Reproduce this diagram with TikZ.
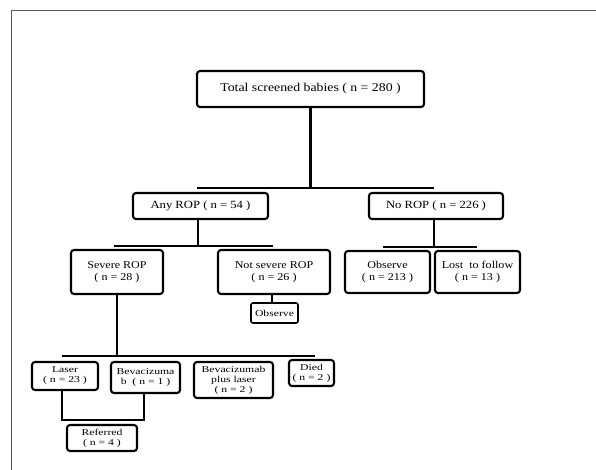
\documentclass[tikz,border=0pt]{standalone}
\usepackage{fontspec}
\setmainfont{Liberation Serif}[FakeStretch=1.15]
\newfontfamily\widefont{Liberation Serif}[FakeStretch=1.3]
\usepackage{tikz}
\usetikzlibrary{calc}

\begin{document}
\begin{tikzpicture}[x=1pt, y=-1pt,
    box/.style={draw, line width=2.1pt, rounded corners=3pt, align=center, inner sep=1pt},
    stem/.style={line width=2.8pt},
    bar/.style={line width=1.2pt}]
    % 1. 画布与外框
    \useasboundingbox (0,0) rectangle (596,470);
    \draw[gray!70!black, line width=0.9pt] (11,470) -- (11,10) -- (596,10);

    % 2. 第一层与第二层
    \node[box, minimum width=227, minimum height=36, font=\fontsize{12}{14}\selectfont] (total) at (310.5,89) {Total screened babies ( n = 280 )};
    \node[box, minimum width=135, minimum height=26, font=\fontsize{11}{13}\selectfont] (anyrop) at (200.5,206) {Any ROP ( n = 54 )};
    \node[box, minimum width=134, minimum height=26, font=\fontsize{11}{13}\selectfont] (norop) at (436,206) {No ROP ( n = 226 )};

    % 3. 第三层
    \foreach \name/\x/\w/\h/\txt in {severe/117/92/44/{Severe ROP\\( n = 28 )},
                                 notsevere/274/112/44/{Not severe ROP\\( n = 26 )},
                                 observe/387.5/85/42/{Observe\\( n = 213 )},
                                 lost/477.5/85/42/{Lost\ \ to follow\\( n = 13 )}}
        \node[box, minimum width=\w, minimum height=\h, font=\fontsize{10.5}{12.5}\selectfont] (\name) at (\x,272) {\txt};
    \node[box, line width=1.6pt, rounded corners=2pt, minimum width=47, minimum height=20, font=\widefont\fontsize{9}{10}\selectfont] (obssmall) at (274.5,313) {Observe};

    % 4. 第四层 (治疗方式)
    \foreach \name/\x/\y/\w/\h/\txt in {laser/65/376/66/28/{Laser\\( n = 23 )},
                                    bev/145.5/377.5/69/31/{Bevacizuma\\b\ \ ( n = 1 )},
                                    bevlaser/233.5/380/79/36/{Bevacizumab\\plus laser\\( n = 2 )},
                                    died/311.5/373/45/26/{Died\\( n = 2 )},
                                    referred/102/438/70/26/{Referred\\( n = 4 )}}
        \node[box, minimum width=\w, minimum height=\h, font=\widefont\fontsize{9}{10}\selectfont] (\name) at (\x,\y) {\txt};

    % 5. 横线坐标
    \coordinate (barA) at (197,188);  \coordinate (barAr) at (434,188);
    \coordinate (barB) at (114,246);  \coordinate (barBr) at (273,246);
    \coordinate (barC) at (383,247);  \coordinate (barCr) at (477,247);
    \coordinate (barD) at (62,356);   \coordinate (barDr) at (315,356);
    \coordinate (joinL) at (62,420);

    % 6. 连接线
    \draw[stem] (total.south) -- (total.south |- barA);
    \draw[bar] (barA) -- (barAr);
    \draw[stem] (anyrop.south -| 198,0) -- (198,0 |- barB);
    \draw[bar] (barB) -- (barBr);
    \draw[line width=1.8pt] (norop.south -| 434,0) -- (434,0 |- barC);
    \draw[bar] (barC) -- (barCr);
    \draw[line width=1.8pt] (notsevere.south -| 272,0) -- (272,0 |- obssmall.north);
    \draw[stem] (severe.south) -- (severe.south |- barD);
    \draw[bar] (barD) -- (barDr);
    \draw[stem] (laser.south -| joinL) -- (joinL) -- (joinL -| 144,0) -- (bev.south -| 144,0);
\end{tikzpicture}
\end{document}
